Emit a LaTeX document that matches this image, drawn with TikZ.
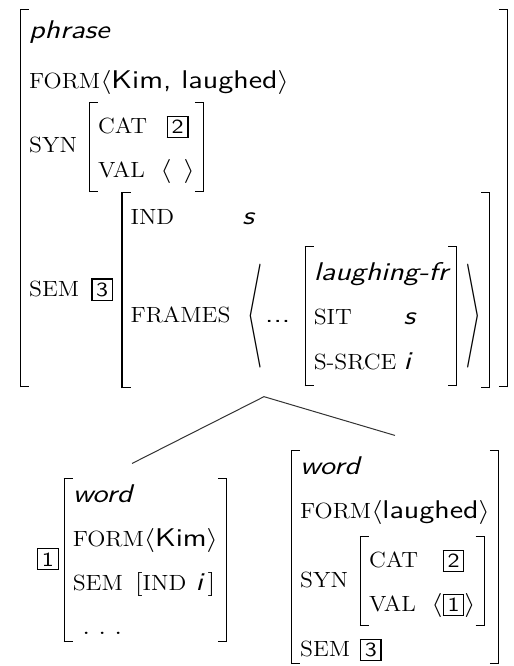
\documentclass[tikz,border=0pt,12pt]{standalone}
\usepackage{graphicx}

% feature names, atomic values, types and tags
\newcommand{\attr}[1]{\textrm{\scalebox{0.9}[1]{\fontsize{11}{13}\selectfont #1}}}
\newcommand{\val}[1]{\textsf{\fontsize{12.8}{15}\selectfont #1}}
\newcommand{\typ}[1]{\textsf{\fontsize{12.8}{15}\selectfont\itshape #1}}
\newcommand{\tagnum}[1]{{\setlength{\fboxsep}{1.5pt}\setlength{\fboxrule}{0.55pt}%
    \fbox{\fontsize{10}{12}\selectfont\sffamily #1}}}

% square brackets of an AVM, drawn with rules
\newdimen\brkup
\newdimen\brkdn
\newcommand{\brkrule}{0.5pt}
\newcommand{\brktick}{3.8pt}
\newcommand{\brkgap}{3.3pt}
\newcommand{\lbrk}{%
    \rlap{\vrule width\brktick height\brkup depth\dimexpr\brkrule-\brkup\relax}%
    \rlap{\vrule width\brktick height\dimexpr\brkrule-\brkdn\relax depth\brkdn}%
    \vrule width\brkrule height\brkup depth\brkdn\relax}
\newcommand{\rbrk}{%
    \vrule width\brkrule height\brkup depth\brkdn\relax
    \llap{\vrule width\brktick height\brkup depth\dimexpr\brkrule-\brkup\relax}%
    \llap{\vrule width\brktick height\dimexpr\brkrule-\brkdn\relax depth\brkdn}}
% \avm[extra length at each end]{columns}{rows}
\newcommand{\avm}[3][0pt]{\hbox{%
    \setbox0\hbox{$\begin{array}{@{}#2@{}}#3\end{array}$}%
    \brkup=\ht0 \advance\brkup by #1\relax
    \brkdn=\dp0 \advance\brkdn by #1\relax
    \lbrk\kern\brkgap\box0\kern\brkgap\rbrk}}
% list brackets taller than \Biggl
\newcommand{\bigla}{\vcenter{\hbox{\resizebox*{6.5pt}{52pt}{$\Biggl\langle$}}}}
\newcommand{\bigra}{\vcenter{\hbox{\resizebox*{6.5pt}{52pt}{$\Biggr\rangle$}}}}
\renewcommand{\arraystretch}{1.53}

\begin{document}
\begin{tikzpicture}[x=0.5pt, y=-0.5pt,
    fs/.style={inner sep=4pt, font=\fontsize{12}{14.4}\selectfont},
    branch/.style={draw=black!80, line width=0.5pt}]

    \useasboundingbox (0,0) rectangle (514,666);
    \clip (0,0) rectangle (514,666);

    % Mother
    \node[fs] (phrase) at (264,198) {\scalebox{1.2}[1]{\avm[-0.4pt]{l}{
        \typ{phrase}\\[3pt]
        \attr{FORM}\langle\val{Kim, laughed}\rangle\\
        \attr{SYN}\hspace{5pt}\avm[0.5pt]{l@{\hspace{5.5pt}}c}{
            \attr{CAT} & \tagnum{2}\\
            \attr{VAL} & \langle\hspace{5pt}\rangle}\\
        \attr{SEM}\hspace{5pt}\tagnum{3}\hspace{3.5pt}\avm[1pt]{l@{\hspace{5pt}}l}{
            \attr{IND} & \typ{s}\\[4pt]
            \attr{FRAMES} & \kern2pt\bigla\kern1pt\val{...}\hspace{6pt}\avm[2pt]{l@{\hspace{3pt}}l}{
                \multicolumn{2}{@{}l@{}}{\typ{laughing-fr}}\\
                \attr{SIT} & \typ{s}\\
                \attr{S-SRCE} & \typ{i}}\hspace{3.5pt}\bigra}\hspace{3.5pt}}}};

    % Daughters
    \node[fs] (kim) at (132,560) {\scalebox{1.2}[1]{\tagnum{1}\kern2pt\avm[-3pt]{l}{
        \typ{word}\\
        \attr{FORM}\langle\val{Kim}\rangle\\
        \attr{SEM}\hspace{5pt}[\attr{IND}\ \typ{i}\,]\\
        \hspace{4pt}.\hspace{3.4pt}.\hspace{3.4pt}.}}};
    \node[fs] (laughed) at (395,557) {\scalebox{1.2}[1]{\avm[-3pt]{l}{
        \typ{word}\\
        \attr{FORM}\langle\val{laughed}\rangle\\[2pt]
        \attr{SYN}\hspace{5pt}\avm[0.5pt]{l@{\hspace{5.5pt}}c}{
            \attr{CAT} & \tagnum{2}\\
            \attr{VAL} & \langle\tagnum{1}\rangle}\\[2pt]
        \attr{SEM}\hspace{4pt}\tagnum{3}}}};

    % Branches
    \draw[branch] (phrase.south) -- (kim.north);
    \draw[branch] (phrase.south) -- (laughed.north);
\end{tikzpicture}
\end{document}
